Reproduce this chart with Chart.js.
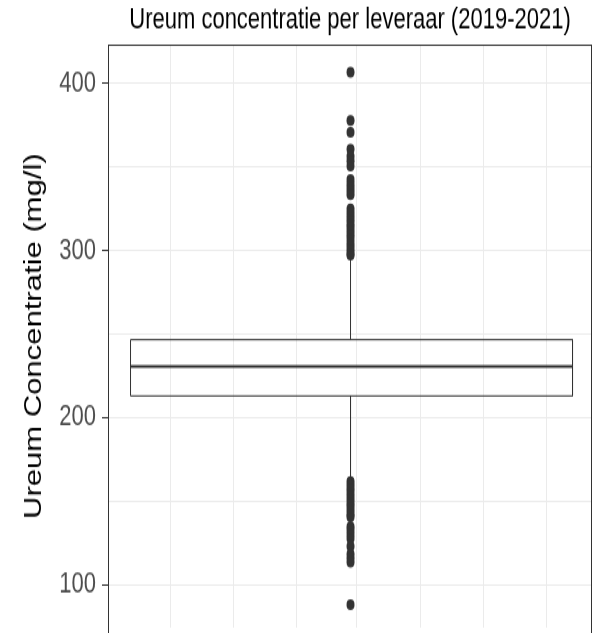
<!DOCTYPE html>
<html>
<head>
<meta charset="utf-8">
<script src="https://cdn.jsdelivr.net/npm/chart.js@4.4.0/dist/chart.umd.min.js"></script>
<style>
  html, body { margin: 0; padding: 0; background: #fff; }
  #myChart { display: block; }
</style>
</head>
<body>
<!-- the reference is stretched vertically, so the canvas is drawn at 469px and shown at 633px -->
<canvas id="myChart" width="598" height="469" style="width:598px;height:633px"></canvas>
<script>
// boxplot ureum (mg/l)
const q1 = 213
const mediaan = 230.6
const q3 = 246.6
const whiskerLaag = 163
const whiskerHoog = 296.5

const uitschietersHoog = [
  406.5, 377.6, 370.6,
  360.5, 356.3, 353.4, 350.3,
  342.4, 340, 337.7, 335.5, 333.3,
  324.7, 322.4, 320.1, 318, 315.6, 313.4, 311.2, 309, 306.8, 304.5, 302.3, 300.1, 297.9, 297.2
]
const uitschietersLaag = [
  161.8, 159.6, 157.4, 155.2, 153, 150.8, 148.6, 146.4, 144.2, 142, 140.6,
  134.9, 132.6, 130.2, 127.8,
  123.1,
  118.5, 116, 113.6,
  88.2
]

// axes
const yMajor = [100, 200, 300, 400]
const yMinor = [150, 250, 350]
const yMin = 74.5
const yMax = 423
const xMin = -0.4125
const xMax = 0.4125
const xGrid = [-0.3066, -0.199, -0.0916, 0.0114, 0.12, 0.228, 0.335]

// box position on the x axis (small offset keeps 1px lines sharp)
const boxL = -0.3741
const boxR = 0.3793
const midden = 0.0009

const donker = "#333333"
const raster = "#EBEBEB"

Chart.defaults.font.family = "'Liberation Sans', Arial, sans-serif"

const panelRand = {
  id: "panelRand",
  afterDraw(chart) {
    const { ctx, chartArea: a } = chart
    ctx.save()
    ctx.strokeStyle = donker
    ctx.lineWidth = 1
    ctx.strokeRect(Math.round(a.left) + 0.5, Math.round(a.top) + 0.5, Math.round(a.right - a.left) - 1, a.bottom - a.top + 10)
    ctx.restore()
  },
}

const ctx = document.getElementById("myChart")

new Chart(ctx, {
  type: "scatter",
  data: {
    datasets: [
      {
        // mediaan
        type: "line",
        data: [{ x: boxL, y: mediaan }, { x: boxR, y: mediaan }],
        borderColor: donker,
        borderWidth: 2,
        pointRadius: 0,
        fill: false,
      },
      {
        // box
        type: "line",
        data: [
          { x: boxL, y: q1 },
          { x: boxL, y: q3 },
          { x: boxR, y: q3 },
          { x: boxR, y: q1 },
          { x: boxL, y: q1 },
        ],
        borderColor: donker,
        borderWidth: 1,
        backgroundColor: "#ffffff",
        pointRadius: 0,
        tension: 0,
        fill: { value: q1 },
      },
      {
        type: "line",
        data: [{ x: midden, y: q3 }, { x: midden, y: whiskerHoog }],
        borderColor: donker,
        borderWidth: 1,
        pointRadius: 0,
        fill: false,
      },
      {
        type: "line",
        data: [{ x: midden, y: q1 }, { x: midden, y: whiskerLaag }],
        borderColor: donker,
        borderWidth: 1,
        pointRadius: 0,
        fill: false,
      },
      {
        type: "scatter",
        data: uitschietersHoog.concat(uitschietersLaag).map((v) => ({ x: midden, y: v })),
        backgroundColor: donker,
        borderWidth: 0,
        pointRadius: 4,
      },
    ],
  },
  options: {
    responsive: false,
    animation: false,
    devicePixelRatio: 1,
    layout: { padding: { top: 0, right: 6, bottom: -4, left: 0 } },
    plugins: {
      legend: { display: false },
      tooltip: { enabled: false },
      title: {
        display: true,
        text: "Ureum concentratie per leveraar (2019-2021)",
        fullSize: false,
        color: "#000000",
        font: { size: 22, weight: "normal" },
        padding: { top: 2, bottom: 4.6 },
      },
    },
    scales: {
      x: {
        type: "linear",
        min: xMin,
        max: xMax,
        ticks: { display: false },
        border: { display: false },
        grid: { color: raster, lineWidth: 1, drawTicks: false },
        afterBuildTicks: (scale) => {
          scale.ticks = xGrid.map((v) => ({ value: v }))
        },
        afterFit: (scale) => {
          scale.height = 0
          scale.paddingLeft = 0
          scale.paddingRight = 0
        },
      },
      y: {
        type: "linear",
        min: yMin,
        max: yMax,
        border: { display: false },
        grid: {
          color: raster,
          lineWidth: 1,
          tickLength: 6,
          tickColor: (c) => (yMajor.includes(c.tick.value) ? donker : "rgba(0,0,0,0)"),
        },
        ticks: {
          color: "#4D4D4D",
          font: { size: 22 },
          padding: 6,
          callback: (v) => (yMajor.includes(v) ? v : ""),
        },
        title: {
          display: true,
          text: "Ureum Concentratie (mg/l)",
          color: "#000000",
          font: { size: 23 },
          padding: { top: 21, bottom: 0 },
        },
        afterBuildTicks: (scale) => {
          scale.ticks = yMinor.concat(yMajor).sort((a, b) => a - b).map((v) => ({ value: v }))
        },
        afterFit: (scale) => {
          scale.width = 108
          scale.paddingTop = 0
          scale.paddingBottom = 0
        },
      },
    },
  },
  plugins: [panelRand],
})
</script>
</body>
</html>
